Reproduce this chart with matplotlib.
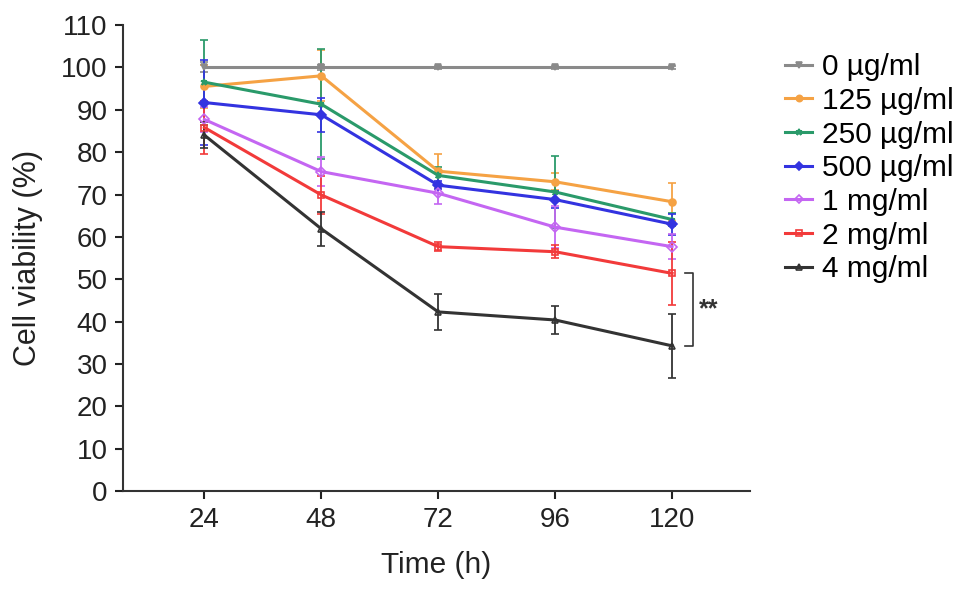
import matplotlib.pyplot as plt
from matplotlib.lines import Line2D

plt.rcParams['font.family'] = ['Liberation Sans', 'DejaVu Sans']

# time points (h)
hours = [24, 48, 72, 96, 120]

# mean cell viability (%) per dose
labels = ['0 \u00b5g/ml', '125 \u00b5g/ml', '250 \u00b5g/ml', '500 \u00b5g/ml',
          '1 mg/ml', '2 mg/ml', '4 mg/ml']
v0 = [100, 100, 100, 100, 100]
v125 = [95.5, 98.0, 75.5, 73.0, 68.3]
v250 = [96.5, 91.3, 74.5, 70.6, 64.1]
v500 = [91.7, 88.8, 72.2, 68.8, 63.0]
v1m = [87.7, 75.4, 70.3, 62.3, 57.7]
v2m = [85.8, 69.9, 57.7, 56.5, 51.4]
v4m = [84.0, 61.9, 42.3, 40.4, 34.3]

# error bars (SD)
e0 = [1.2, 0.6, 0.3, 0.3, 0.3]
e125 = [5.0, 6.0, 4.0, 2.0, 4.5]
e250 = [10.0, 13.0, 2.0, 8.5, 1.5]
e500 = [10.0, 4.0, 1.0, 2.0, 2.5]
e1m = [3.0, 3.5, 2.5, 5.0, 3.0]
e2m = [6.3, 4.5, 1.0, 1.5, 7.5]
e4m = [3.0, 4.0, 4.3, 3.2, 7.5]

means = [v0, v125, v250, v500, v1m, v2m, v4m]
errs = [e0, e125, e250, e500, e1m, e2m, e4m]
colors = ['#8a8a8a', '#f5a244', '#2a9a6a', '#3333e0', '#c466f2', '#f23a3a', '#333333']
markers = ['v', 'o', '*', 'D', 'D', 's', '^']
filled = [True, True, True, True, False, False, False]

fig = plt.figure(figsize=(9.69, 5.94), dpi=100)
ax = fig.add_axes([0.127, 0.173, 0.647, 0.785])

handles = []
for m, e, c, mk, f, lab in zip(means, errs, colors, markers, filled, labels):
    fc = c if f else 'none'
    ax.errorbar(hours, m, yerr=e, color=c, marker=mk, markersize=5,
                markerfacecolor=fc, markeredgewidth=1.2,
                linewidth=2.2, elinewidth=1.3, capsize=3, capthick=1.3)
    handles.append(Line2D([], [], color=c, marker=mk, markersize=4.5,
                          markerfacecolor=fc, markeredgewidth=1.2,
                          linewidth=2.2, label=lab))

# significance bracket between 2 mg/ml and 4 mg/ml at 120 h
bx = 124.2
ax.plot([bx - 1.6, bx, bx, bx - 1.6], [v2m[-1], v2m[-1], v4m[-1], v4m[-1]],
        color='#333333', linewidth=1.2, clip_on=False)
ax.text(bx + 1.4, (v2m[-1] + v4m[-1]) / 2, '**', fontsize=18, fontweight='bold',
        va='center', ha='left', color='#333333')

ax.set_xlim(7.3, 136)
ax.set_ylim(0, 110)
ax.set_xticks(hours)
ax.set_yticks(range(0, 111, 10))
ax.set_xlabel('Time (h)', fontsize=21.5, color='#222222', labelpad=13)
ax.set_ylabel('Cell viability (%)', fontsize=22, color='#222222', labelpad=13)
ax.tick_params(labelsize=20, colors='#222222', width=1.5, length=6, pad=5)
for s in ['top', 'right']:
    ax.spines[s].set_visible(False)
for s in ['left', 'bottom']:
    ax.spines[s].set_linewidth(1.5)
    ax.spines[s].set_color('#333333')

ax.legend(handles=handles, loc='upper left', bbox_to_anchor=(1.037, 0.965),
          frameon=False, fontsize=21.5, handlelength=0.9, handletextpad=0.35,
          labelspacing=0.19, borderaxespad=0.0)

fig.savefig('out.png', dpi=100)
